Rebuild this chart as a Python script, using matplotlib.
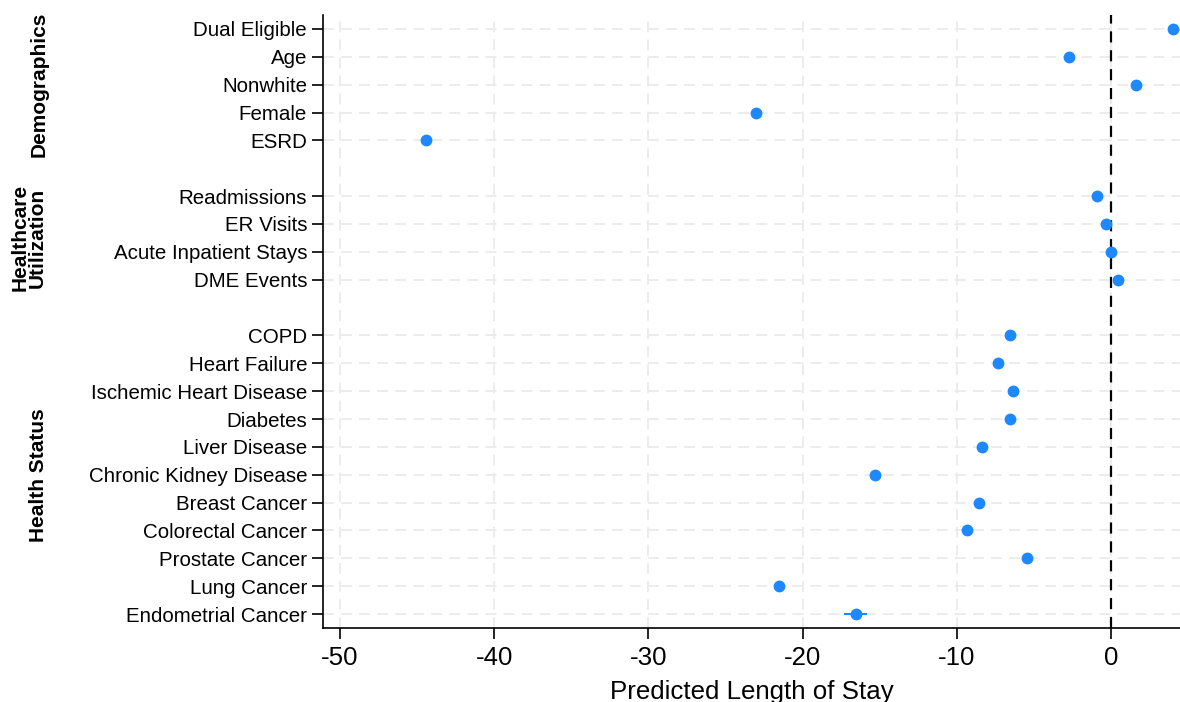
import numpy as np
import matplotlib
matplotlib.use('Agg')
import matplotlib.pyplot as plt
import matplotlib.transforms as mtransforms

plt.rcParams['font.family'] = ['Liberation Sans', 'DejaVu Sans']

# row labels, top to bottom; None marks the empty rows between groups
labels = ['Dual Eligible', 'Age', 'Nonwhite', 'Female', 'ESRD', None,
          'Readmissions', 'ER Visits', 'Acute Inpatient Stays', 'DME Events', None,
          'COPD', 'Heart Failure', 'Ischemic Heart Disease', 'Diabetes',
          'Liver Disease', 'Chronic Kidney Disease', 'Breast Cancer',
          'Colorectal Cancer', 'Prostate Cancer', 'Lung Cancer', 'Endometrial Cancer']
est = [4.0, -2.7, 1.6, -23.0, -44.4, None,
       -0.9, -0.3, 0.0, 0.45, None,
       -6.55, -7.3, -6.35, -6.55, -8.4, -15.3, -8.55, -9.35, -5.45, -21.5, -16.55]
ci_lo = [3.9, -2.8, 1.5, -23.1, -44.5, None,
         -1.0, -0.35, -0.05, 0.4, None,
         -6.6, -7.4, -6.45, -6.65, -8.5, -15.4, -8.65, -9.45, -5.55, -21.8, -17.3]
ci_hi = [4.1, -2.6, 1.7, -22.9, -44.3, None,
         -0.8, -0.25, 0.05, 0.5, None,
         -6.5, -7.2, -6.25, -6.45, -8.3, -15.2, -8.45, -9.25, -5.35, -21.2, -15.8]
groups = ['Demographics', 'Healthcare\nUtilization', 'Health Status']
group_rows = [(0, 4), (6, 9), (11, 21)]
xticks = [-50, -40, -30, -20, -10, 0]

blue = '#1E88FF'

fig = plt.figure(figsize=(11.8, 7.02), dpi=100)
ax = fig.add_axes([323/1180, 1-628/702, 1-323/1180, (628-15)/702])

rows = [i for i, l in enumerate(labels) if l is not None]
xs = np.array([est[i] for i in rows])
lo = np.array([ci_lo[i] for i in rows])
hi = np.array([ci_hi[i] for i in rows])
ys = np.array(rows)

ax.hlines(ys, lo, hi, color=blue, lw=1.5, zorder=3)
ax.plot(xs, ys, 'o', color=blue, ms=7.5, zorder=4, clip_on=False)

ax.axvline(0, color='black', lw=1.6, ls=(0, (5, 3.5)), zorder=2)

ax.set_ylim(len(labels)-0.5, -0.5)
ax.set_xlim(-51.1, 4.47)
ax.set_yticks(rows)
ax.set_yticklabels([labels[i] for i in rows], fontsize=14.8)
ax.set_xticks(xticks)
ax.set_xticklabels([str(t) for t in xticks], fontsize=18.6)
ax.set_xlabel('Predicted Length of Stay', fontsize=18.6, labelpad=7)

for y in rows:
    ax.axhline(y, color='#ebebeb', lw=1.3, ls=(0, (6, 4)), zorder=1)
for x in xticks:
    ax.axvline(x, color='#ebebeb', lw=1.3, ls=(0, (6, 4)), zorder=1)

ax.spines['top'].set_visible(False)
ax.spines['right'].set_visible(False)
ax.tick_params(axis='both', direction='out', length=8, width=1.2, color='black')
ax.tick_params(axis='x', pad=5)
ax.spines['left'].set_linewidth(1.2)
ax.spines['bottom'].set_linewidth(1.2)

trans = mtransforms.blended_transform_factory(fig.transFigure, ax.transData)
for g, (a, b) in zip(groups, group_rows):
    xpos = 29/1180 if '\n' in g else 39/1180
    ax.text(xpos, (a+b)/2, g, transform=trans, rotation=90, ha='center', va='center',
            fontsize=15, fontweight='bold', linespacing=0.9)

fig.savefig('out.png', dpi=100)
